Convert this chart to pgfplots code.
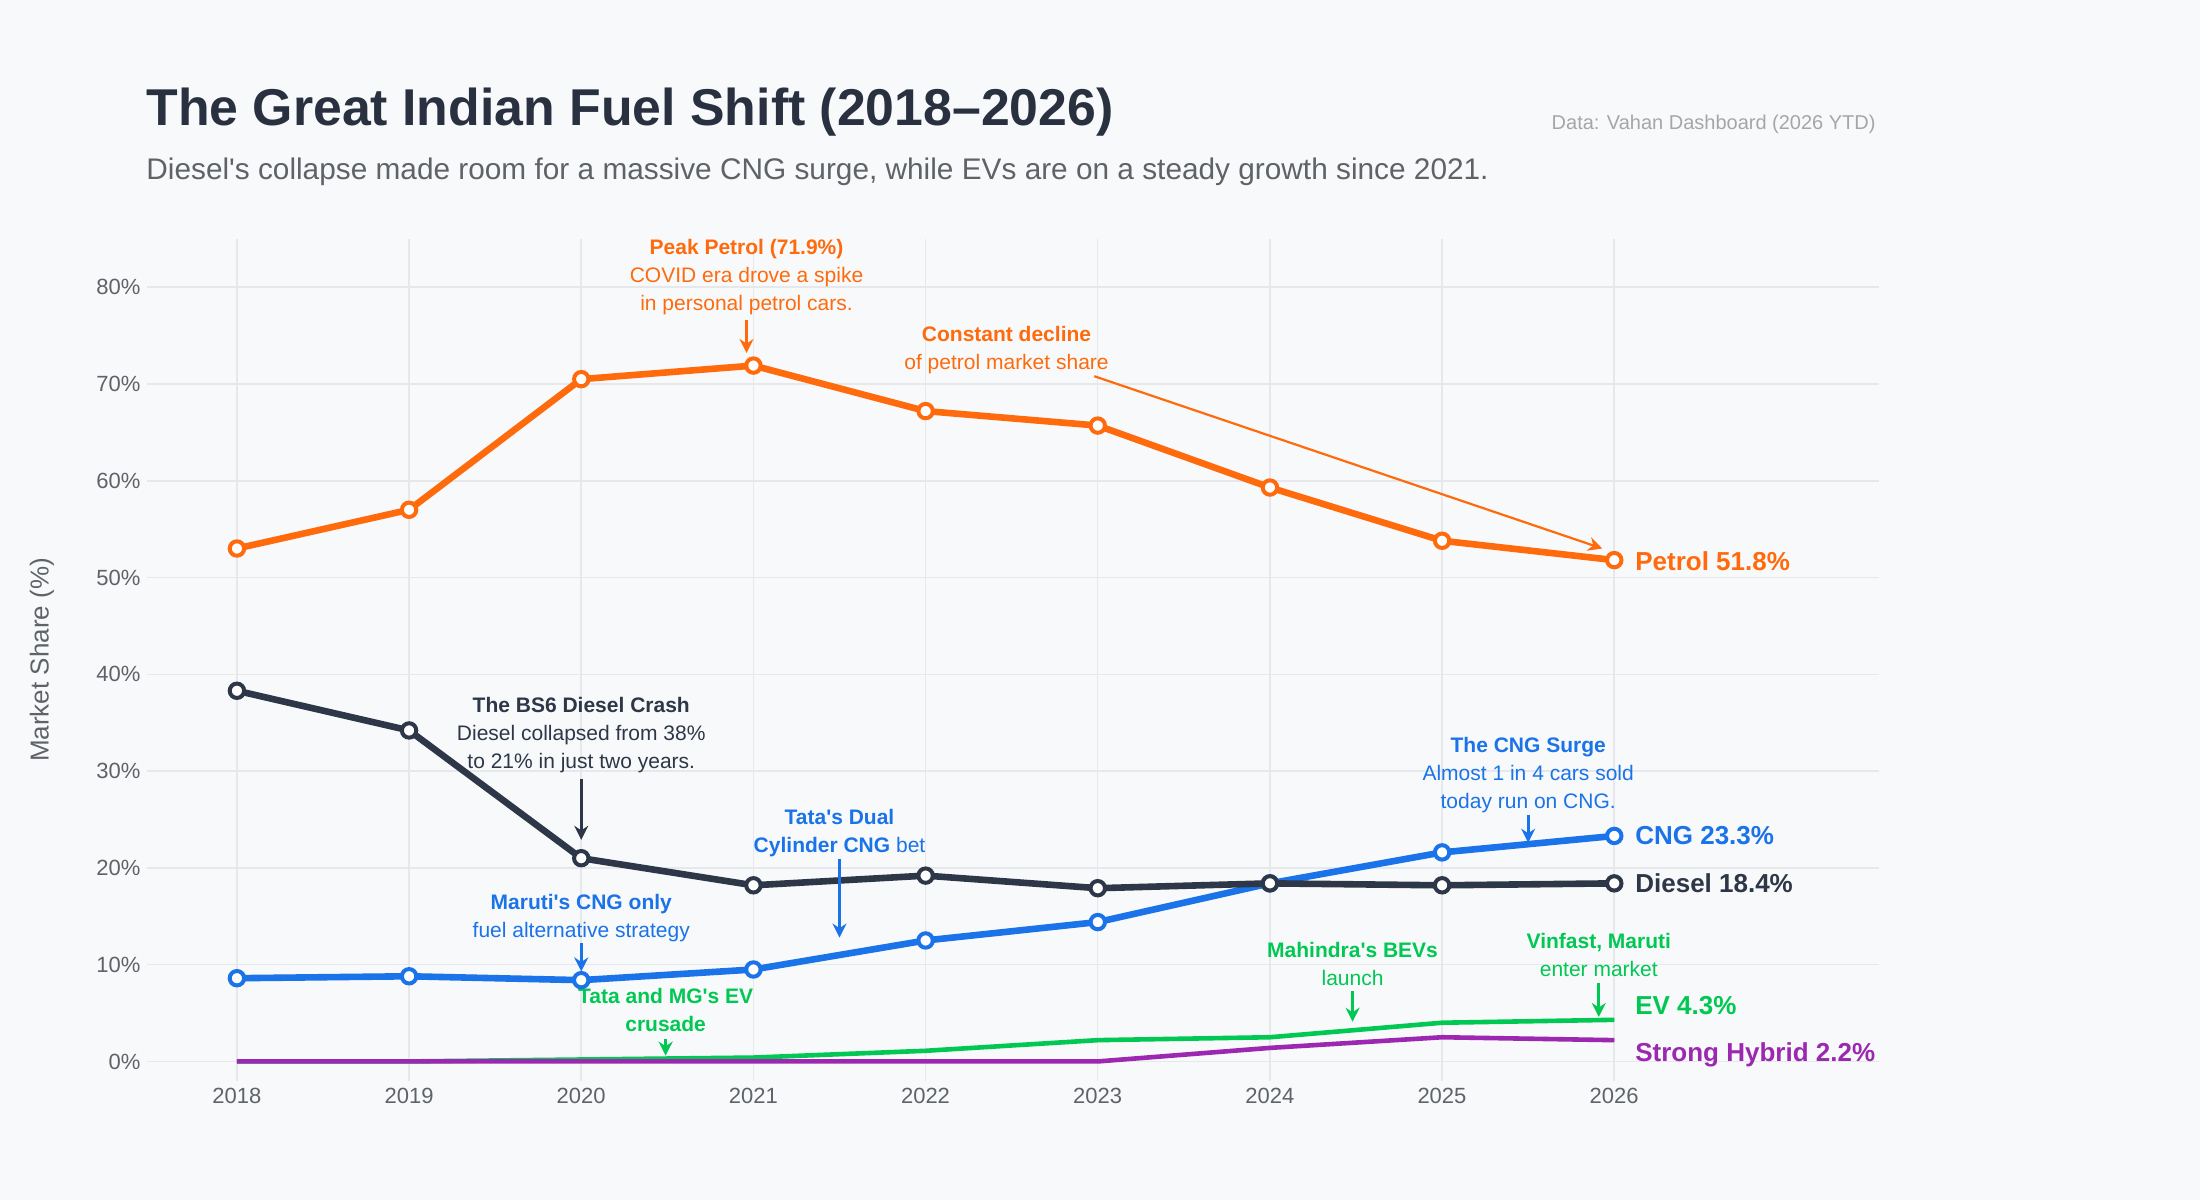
\documentclass[border=0pt]{standalone}
\usepackage{pgfplots}
\pgfplotsset{compat=1.18}
\usetikzlibrary{arrows.meta}
\usepackage{fontspec}
\setmainfont{Liberation Sans}[Ligatures=TeXOff]
\definecolor{bg}{HTML}{F8F9FA}
\definecolor{petrol}{HTML}{FF6A0D}
\definecolor{diesel}{HTML}{2D3748}
\definecolor{cng}{HTML}{1A73E8}
\definecolor{ev}{HTML}{00C853}
\definecolor{hyb}{HTML}{9C27B0}
\definecolor{gridc}{HTML}{E6E8EB}
\definecolor{tickc}{HTML}{5F6368}
\begin{document}
\begin{tikzpicture}
\fill[bg] (0,0) rectangle (1100pt,600pt);
\node[anchor=base west,font=\fontsize{25.9}{30}\selectfont\bfseries,text=diesel!90!black,inner sep=0] at (73pt,537pt) {The Great Indian Fuel Shift (2018–2026)};
\node[anchor=base west,font=\fontsize{14.9}{17}\selectfont,text=tickc,inner sep=0] at (73pt,510pt) {Diesel's collapse made room for a massive CNG surge, while EVs are on a steady growth since 2021.};
\node[anchor=base east,font=\fontsize{10}{12}\selectfont,text=gray!70,inner sep=0] at (938pt,535pt) {Data: Vahan Dashboard (2026 YTD)};
\node[rotate=90,font=\fontsize{13}{15}\selectfont,text=tickc] at (21pt,270pt) {Market Share (\%)};
\begin{axis}[at={(73.7pt,59.6pt)},anchor=south west,scale only axis,width=866pt,height=421pt,
 xmin=2017.48,xmax=2027.54,ymin=-2,ymax=85,
 axis line style={draw=none},tick style={draw=none},
 grid=major,grid style={gridc,line width=0.8pt},
 xtick={2018,...,2026},ytick={0,10,...,80},
 /pgf/number format/1000 sep={},/pgf/number format/assume math mode=true,
 yticklabel={\pgfmathprintnumber{\tick}\%},
 ticklabel style={font=\fontsize{11}{13}\selectfont,text=tickc},
 clip=false]
\addplot[ev,line width=2.3pt] coordinates {(2018,0)(2019,0)(2020,0.2)(2021,0.4)(2022,1.1)(2023,2.2)(2024,2.5)(2025,4.0)(2026,4.3)};
\addplot[hyb,line width=2.3pt] coordinates {(2018,0)(2019,0)(2020,0)(2021,0)(2022,0)(2023,0)(2024,1.4)(2025,2.5)(2026,2.2)};
\addplot[cng,line width=3.3pt,mark=*,mark size=3.6pt,mark options={fill=white,line width=2pt}] coordinates {(2018,8.6)(2019,8.8)(2020,8.4)(2021,9.5)(2022,12.5)(2023,14.4)(2024,18.4)(2025,21.6)(2026,23.3)};
\addplot[diesel,line width=3.3pt,mark=*,mark size=3.6pt,mark options={fill=white,line width=2pt}] coordinates {(2018,38.3)(2019,34.2)(2020,21.0)(2021,18.2)(2022,19.2)(2023,17.9)(2024,18.4)(2025,18.2)(2026,18.4)};
\addplot[petrol,line width=3.3pt,mark=*,mark size=3.6pt,mark options={fill=white,line width=2pt}] coordinates {(2018,53.0)(2019,57.0)(2020,70.5)(2021,71.9)(2022,67.2)(2023,65.7)(2024,59.3)(2025,53.8)(2026,51.8)};
\tikzset{endl/.style={anchor=west,font=\fontsize{13}{15}\selectfont\bfseries,inner sep=0}}
\node[endl,text=petrol] at (axis cs:2026.12,51.7) {Petrol 51.8\%};
\node[endl,text=cng] at (axis cs:2026.12,23.3) {CNG 23.3\%};
\node[endl,text=diesel] at (axis cs:2026.12,18.4) {Diesel 18.4\%};
\node[endl,text=ev] at (axis cs:2026.12,5.8) {EV 4.3\%};
\node[endl,text=hyb] at (axis cs:2026.12,0.7) {Strong Hybrid 2.2\%};
\tikzset{ann/.style={align=center,font=\fontsize{10.5}{14}\selectfont,inner sep=0,anchor=north},
 arr/.style={-{Stealth[length=7pt,width=7pt]},line width=1.4pt}}
\node[ann,text=petrol] at (axis cs:2020.96,85.0) {\textbf{Peak Petrol (71.9\%)}\\COVID era drove a spike\\in personal petrol cars.};
\draw[arr,petrol] (axis cs:2020.96,76.6) -- (axis cs:2020.96,73.2);
\node[ann,text=petrol] at (axis cs:2022.47,76.0) {\textbf{Constant decline}\\of petrol market share};
\draw[arr,petrol,line width=1.1pt] (axis cs:2022.98,70.8) -- (axis cs:2025.93,53.0);
\node[ann,text=diesel] at (axis cs:2020.0,37.7) {\textbf{The BS6 Diesel Crash}\\Diesel collapsed from 38\%\\to 21\% in just two years.};
\draw[arr,diesel] (axis cs:2020.0,29.2) -- (axis cs:2020.0,22.9);
\node[ann,text=cng] at (axis cs:2025.5,33.5) {\textbf{The CNG Surge}\\Almost 1 in 4 cars sold\\today run on CNG.};
\draw[arr,cng] (axis cs:2025.5,25.5) -- (axis cs:2025.5,22.6);
\node[ann,text=cng] at (axis cs:2021.5,26.1) {\textbf{Tata's Dual}\\\textbf{Cylinder CNG} bet};
\draw[arr,cng] (axis cs:2021.5,20.9) -- (axis cs:2021.5,12.8);
\node[ann,text=cng] at (axis cs:2020.0,17.3) {\textbf{Maruti's CNG only}\\fuel alternative strategy};
\draw[arr,cng] (axis cs:2020.0,12.2) -- (axis cs:2020.0,9.3);
\node[ann,text=ev] at (axis cs:2020.49,7.6) {\textbf{Tata and MG's EV}\\\textbf{crusade}};
\draw[arr,ev] (axis cs:2020.49,2.3) -- (axis cs:2020.49,0.6);
\node[ann,text=ev] at (axis cs:2024.48,12.4) {\textbf{Mahindra's BEVs}\\launch};
\draw[arr,ev] (axis cs:2024.48,7.3) -- (axis cs:2024.48,4.1);
\node[ann,text=ev] at (axis cs:2025.91,13.3) {\textbf{Vinfast, Maruti}\\enter market};
\draw[arr,ev] (axis cs:2025.91,8.1) -- (axis cs:2025.91,4.6);
\end{axis}
\end{tikzpicture}
\end{document}
